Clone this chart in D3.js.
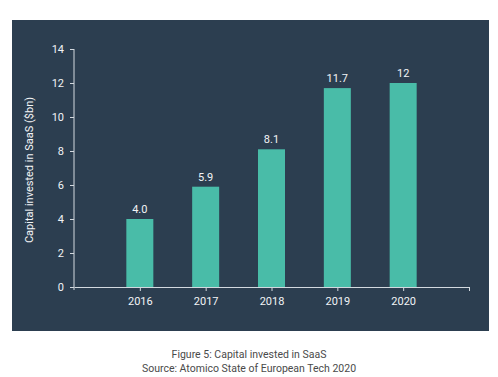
<!DOCTYPE html>
<meta charset="utf-8" />
<script src="https://d3js.org/d3.v7.min.js"></script>
<style>
  body { margin: 0; background: #fff; }
</style>
<div id="chart"></div>
<script>
  // data
  const years = [2016, 2017, 2018, 2019, 2020];
  const values = [4.0, 5.9, 8.1, 11.7, 12];
  const valueLabels = ["4.0", "5.9", "8.1", "11.7", "12"];
  const yTicks = [0, 2, 4, 6, 8, 10, 12, 14];

  const W = 498, H = 377;
  const panel = { x: 12, y: 20, w: 477, h: 311 };
  const plot = { left: 74, right: 469, top: 49, bottom: 287 };

  const svg = d3.select("#chart").append("svg")
    .attr("width", W).attr("height", H)
    .style("font-family", "Roboto, sans-serif");

  // dark panel
  svg.append("rect")
    .attr("x", panel.x).attr("y", panel.y)
    .attr("width", panel.w).attr("height", panel.h)
    .attr("fill", "#2c3e50");

  const x = d3.scaleLinear().domain([2015, 2021]).range([plot.left, plot.right]);
  const y = d3.scaleLinear().domain([0, 14]).range([plot.bottom, plot.top]);
  const barW = 27;

  // bars
  svg.selectAll(".bar")
    .data(values)
    .join("rect")
    .attr("class", "bar")
    .attr("x", (d, i) => x(years[i]) - barW / 2)
    .attr("y", d => y(d))
    .attr("width", barW)
    .attr("height", d => y(0) - y(d))
    .attr("fill", "#49bca8");

  // value labels
  svg.selectAll(".val")
    .data(values)
    .join("text")
    .attr("class", "val")
    .attr("x", (d, i) => x(years[i]))
    .attr("y", d => y(d) - 6)
    .attr("text-anchor", "middle")
    .attr("fill", "#f2f4f6")
    .style("font-size", "11px")
    .text((d, i) => valueLabels[i]);

  const axisColor = "#d3d9df";

  // y axis
  const yAxis = svg.append("g")
    .attr("transform", `translate(${plot.left},0)`)
    .call(d3.axisLeft(y).tickValues(yTicks).tickSize(4).tickPadding(6));
  yAxis.select(".domain").attr("stroke", axisColor).attr("d", `M0,${plot.top}V${plot.bottom + 3}`);
  yAxis.selectAll(".tick line").attr("stroke", axisColor);
  yAxis.selectAll(".tick text")
    .attr("fill", "#f2f4f6")
    .style("font-size", "11px")
    .style("font-family", "Roboto, sans-serif");

  // x axis
  const xAxis = svg.append("g")
    .attr("transform", `translate(0,${plot.bottom})`)
    .call(d3.axisBottom(x).tickValues([...years, 2021]).tickFormat(d => d === 2021 ? "" : d)
      .tickSize(4).tickPadding(6).tickSizeOuter(0));
  xAxis.select(".domain").attr("stroke", axisColor);
  xAxis.selectAll(".tick line").attr("stroke", axisColor);
  xAxis.selectAll(".tick text")
    .attr("fill", "#f2f4f6")
    .style("font-size", "11px")
    .style("font-family", "Roboto, sans-serif");

  // y axis title
  svg.append("text")
    .attr("transform", `translate(33,${(plot.top + plot.bottom) / 2 + 2}) rotate(-90)`)
    .attr("text-anchor", "middle")
    .attr("fill", "#f2f4f6")
    .style("font-size", "11px")
    .text("Capital invested in SaaS ($bn)");

  // caption
  const caption = ["Figure 5: Capital invested in SaaS", "Source: Atomico State of European Tech 2020"];
  svg.selectAll(".cap")
    .data(caption)
    .join("text")
    .attr("class", "cap")
    .attr("x", W / 2)
    .attr("y", (d, i) => 358 + i * 14)
    .attr("text-anchor", "middle")
    .attr("fill", "#4a4a4a")
    .style("font-size", "10.5px")
    .style("font-family", "Roboto, sans-serif")
    .text(d => d);
</script>
